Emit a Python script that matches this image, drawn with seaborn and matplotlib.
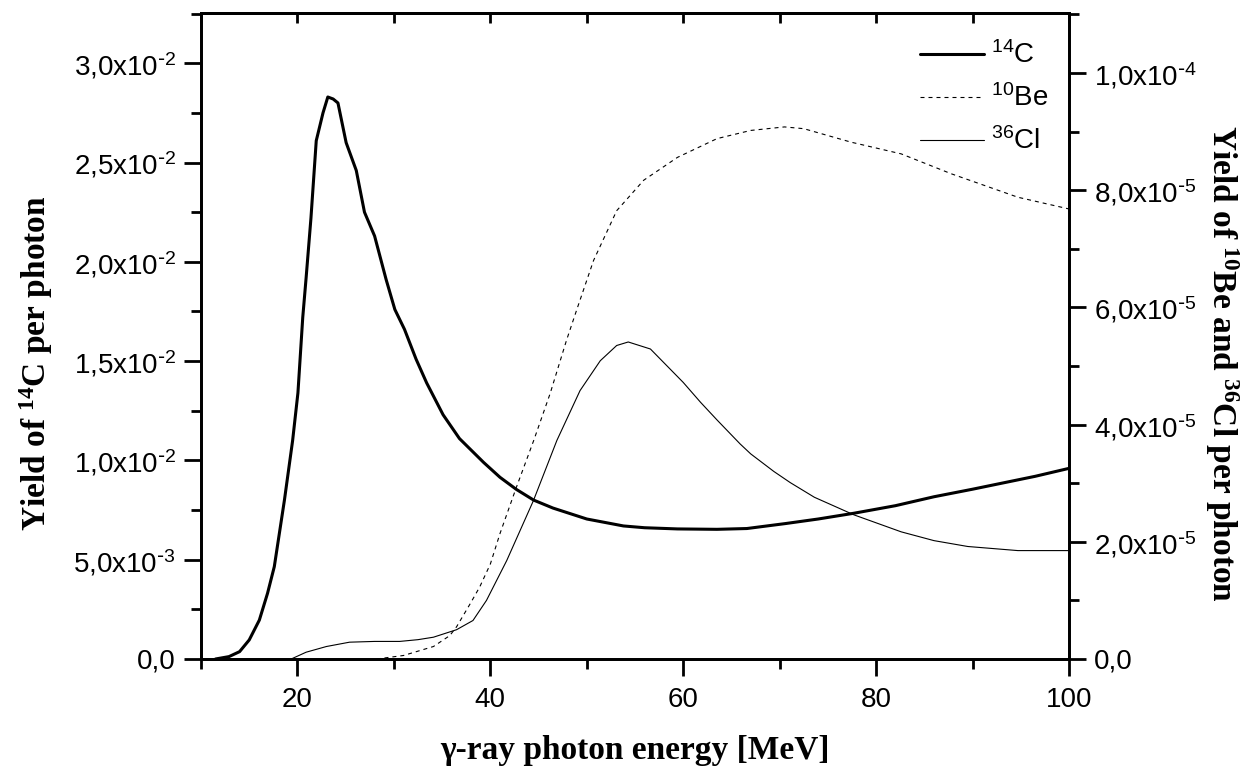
import matplotlib
matplotlib.use('Agg')
import matplotlib.pyplot as plt
import numpy as np
import pandas as pd
import seaborn as sns
from matplotlib.ticker import MultipleLocator, FuncFormatter

# 14C yield (left axis), values in units of 1e-2 per photon
energy_c14 = [11.5, 12.9, 14.0, 15.0, 16.05, 16.9, 17.6, 18.65, 19.5, 20.05, 20.55, 20.9,
              21.4, 21.95, 22.3, 22.65, 23.15, 23.7, 24.2, 25.05, 26.1, 26.95, 28.0, 29.2,
              30.1, 31.1, 32.3, 33.4, 35.1, 36.8, 39.3, 41.0, 42.7, 44.5, 46.5, 50.0,
              53.8, 56.0, 59.4, 63.5, 66.6, 70.6, 74.0, 77.7, 82.0, 86.0, 90.0, 93.0,
              96.5, 100.0]
yield_c14 = [0.0, 0.012, 0.037, 0.096, 0.196, 0.331, 0.465, 0.80, 1.10, 1.34, 1.72, 1.92,
             2.22, 2.61, 2.68, 2.75, 2.83, 2.82, 2.80, 2.60, 2.46, 2.25, 2.13, 1.91,
             1.76, 1.66, 1.51, 1.39, 1.23, 1.11, 0.99, 0.915, 0.854, 0.80, 0.76, 0.705,
             0.67, 0.661, 0.655, 0.653, 0.657, 0.682, 0.705, 0.734, 0.772, 0.817, 0.855, 0.885,
             0.92, 0.96]

# 10Be yield (right axis), units of 1e-5 per photon
energy_be10 = [28.2, 31.0, 34.1, 35.8, 36.5, 37.9, 38.9, 40.0, 41.0, 42.7, 44.5, 46.2,
               47.9, 49.0, 50.7, 53.1, 55.9, 59.4, 63.5, 67.0, 70.5, 72.5, 77.4, 82.6,
               87.8, 94.7, 100.0]
yield_be10 = [0.0, 0.06, 0.213, 0.40, 0.55, 0.94, 1.23, 1.62, 2.14, 2.93, 3.73, 4.53,
              5.44, 5.98, 6.80, 7.65, 8.17, 8.56, 8.88, 9.02, 9.08, 9.05, 8.82, 8.62,
              8.28, 7.88, 7.68]

# 36Cl yield (right axis), units of 1e-5 per photon
energy_cl36 = [19.35, 20.9, 23.0, 25.4, 28.0, 30.6, 32.5, 34.1, 36.5, 38.2, 39.6, 41.7,
               44.46, 46.9, 49.3, 51.4, 53.1, 54.3, 56.6, 60.0, 61.8, 63.5, 65.9, 67.0,
               69.4, 71.1, 73.6, 77.7, 82.6, 86.0, 89.5, 94.7, 100.0]
yield_cl36 = [0.0, 0.116, 0.213, 0.287, 0.30, 0.30, 0.33, 0.372, 0.50, 0.657, 1.0, 1.68,
              2.70, 3.73, 4.58, 5.09, 5.35, 5.41, 5.29, 4.72, 4.38, 4.08, 3.67, 3.50,
              3.20, 3.01, 2.76, 2.46, 2.17, 2.02, 1.92, 1.85, 1.85]

df_c14 = pd.DataFrame({'energy': energy_c14, 'yield': np.array(yield_c14) * 1e-2})
df_be10 = pd.DataFrame({'energy': energy_be10, 'yield': np.array(yield_be10) * 1e-5})
df_cl36 = pd.DataFrame({'energy': energy_cl36, 'yield': np.array(yield_cl36) * 1e-5})

sns.set_style('ticks')
plt.rcParams['font.family'] = ['Liberation Sans', 'DejaVu Sans']
plt.rcParams['mathtext.default'] = 'regular'
for key in ['text.color', 'axes.labelcolor', 'xtick.color', 'ytick.color', 'axes.edgecolor']:
    plt.rcParams[key] = 'black'
serif = ['Liberation Serif', 'DejaVu Serif']


def sci_comma(v, pos):
    if abs(v) < 1e-12:
        return '0,0'
    exp = int(np.floor(np.log10(abs(v)) + 1e-9))
    mant = v / 10 ** exp
    sign = '\\text{-}' if exp < 0 else ''
    return f'{mant:.1f}'.replace('.', ',') + 'x10$^{' + sign + str(abs(exp)) + '}$'


fig = plt.figure(figsize=(12.59, 7.69), dpi=100)
ax = fig.add_axes([201 / 1259, 110 / 769, 868 / 1259, 646 / 769])
ax2 = ax.twinx()

sns.lineplot(data=df_c14, x='energy', y='yield', ax=ax, color='black', lw=2.2,
             label='$^{14}$C', legend=False)
sns.lineplot(data=df_be10, x='energy', y='yield', ax=ax2, color='black', lw=0.8,
             label='$^{10}$Be', legend=False)
sns.lineplot(data=df_cl36, x='energy', y='yield', ax=ax2, color='black', lw=0.8,
             label='$^{36}$Cl', legend=False)
ax2.lines[0].set_dashes((3.6, 3.6))

ax.set_xlim(10, 100)
ax.set_ylim(0, 0.03253)
ax2.set_ylim(0, 1.1024e-4)

ax.xaxis.set_major_locator(MultipleLocator(20))
ax.xaxis.set_minor_locator(MultipleLocator(10))
ax.yaxis.set_major_locator(MultipleLocator(5e-3))
ax.yaxis.set_minor_locator(MultipleLocator(2.5e-3))
ax2.yaxis.set_major_locator(MultipleLocator(2e-5))
ax2.yaxis.set_minor_locator(MultipleLocator(1e-5))
ax.yaxis.set_major_formatter(FuncFormatter(sci_comma))
ax2.yaxis.set_major_formatter(FuncFormatter(sci_comma))

for a in (ax, ax2):
    a.tick_params(which='major', length=12, width=2, direction='out', labelsize=20, pad=6)
    a.tick_params(which='minor', length=7, width=2, direction='out')
    for s in a.spines.values():
        s.set_linewidth(2)
ax.tick_params(right=False, top=False, which='both')
ax.tick_params(axis='x', pad=8)

top = ax.secondary_xaxis('top')
top.xaxis.set_major_locator(MultipleLocator(10))
top.tick_params(direction='in', length=7, width=2, labeltop=False)
top.spines['top'].set_linewidth(2)

ax.set_xlabel('γ-ray photon energy [MeV]', family=serif, fontweight='bold', fontsize=24,
              va='center')
ax.xaxis.set_label_coords(0.5, -0.141)
ax.set_ylabel('Yield of $^{14}$C per photon', family=serif, fontweight='bold', fontsize=24,
              va='center')
ax.yaxis.set_label_coords(-0.19, 0.458)
ax2.set_ylabel('Yield of $^{10}$Be and $^{36}$Cl per photon', family=serif, fontweight='bold',
               fontsize=24, rotation=270, va='center')
ax2.yaxis.set_label_coords(1.176, 0.458)

handles = ax.lines[:1] + ax2.lines[:2]
labels = ['$^{14}$C', '$^{10}$Be', '$^{36}$Cl']
ax2.legend(handles, labels, loc='upper right', bbox_to_anchor=(0.976, 0.956), frameon=False,
           fontsize=20, handlelength=2.3, handletextpad=0.25, labelspacing=0.55,
           borderaxespad=0, borderpad=0)

fig.savefig('out.png', dpi=100)
